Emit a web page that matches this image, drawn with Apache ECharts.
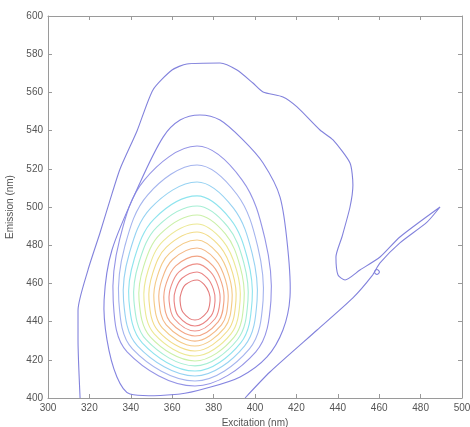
<!DOCTYPE html>
<html><head><meta charset="utf-8">
<script src="https://cdn.jsdelivr.net/npm/echarts@6/dist/echarts.min.js"></script>
<style>html,body{margin:0;padding:0;background:#fff}#c{width:470px;height:427px}</style>
</head><body><div id="c"></div>
<script>
// Axis ranges (nm)
const exRange = [300, 500];
const emRange = [400, 600];
const tickStep = 20;

// Contour lines: [excitation nm, emission nm], innermost (highest level) first
const c01 = [[372,461.8],[375.5,459.4],[377.7,455.3],[378.3,451],[376.8,444.9],[371,440.8],[365.2,444.9],[363.8,451],[364.4,455.3],[366.5,459.4]];
const c02 = [[372,466.0],[377.0,462.7],[379.9,457.0],[380.7,451],[378.8,443.0],[371,437.7],[362.9,443.0],[360.9,451],[361.7,457.0],[364.7,462.7]];
const c03 = [[372,470.2],[378.5,466.0],[382.1,458.7],[383.1,451],[380.7,441.5],[371,435.1],[361.0,441.5],[358.5,451],[359.5,458.7],[363.3,466.0]];
const c04 = [[372,474.3],[379.7,469.2],[383.9,460.3],[385.0,451],[382.2,439.9],[371,432.5],[359.0,439.9],[356.0,451],[357.2,460.3],[361.7,469.2]];
const c05 = [[372,478.5],[380.9,472.5],[385.7,462.0],[387.0,451],[383.8,438.3],[371,429.8],[357.1,438.3],[353.6,451],[355.0,462.0],[360.2,472.5]];
const c06 = [[372,482.7],[382.1,475.7],[387.5,463.7],[388.9,451],[385.3,436.7],[371,427.2],[355.2,436.7],[351.2,451],[352.8,463.7],[358.7,475.7]];
const c07 = [[372,486.9],[383.3,479.0],[389.2,465.4],[390.8,451],[386.8,435.2],[371,424.6],[353.2,435.2],[348.8,451],[350.6,465.4],[357.2,479.0]];
const c08 = [[372,491.1],[384.5,482.3],[391.1,467.0],[392.8,451],[388.4,433.6],[371,422.0],[351.3,433.6],[346.4,451],[348.4,467.0],[355.7,482.3]];
const c09 = [[372,495.8],[385.7,485.9],[392.8,468.9],[394.7,451],[390.0,432.0],[371,419.4],[349.4,432.0],[344.0,451],[346.2,468.9],[354.3,485.9]];
const c10 = [[372,500.5],[386.9,489.6],[394.6,470.8],[396.6,451],[391.5,430.5],[371,416.8],[347.4,430.5],[341.5,451],[343.9,470.8],[352.7,489.6]];
const c11 = [[372,505.8],[388.1,493.7],[396.4,472.9],[398.6,451],[393.1,428.9],[371,414.1],[345.5,428.9],[339.1,451],[341.7,472.9],[351.2,493.7]];
const c12 = [[372,513.1],[389.6,499.4],[398.6,475.8],[401.0,451],[395.0,427.3],[371,411.5],[343.2,427.3],[336.5,451],[339.3,475.8],[349.6,499.4]];
const c13 = [[372,522.0],[391.4,506.4],[401.3,479.4],[403.9,451],[397.3,425.7],[371,408.9],[340.8,425.7],[334.2,451],[337.1,479.4],[348.2,506.4]];
const c14 = [[372,531.9],[393.8,514.1],[404.8,483.4],[407.7,451],[400.4,424.2],[371,406.3],[338.2,424.2],[331.5,451],[334.7,483.4],[346.5,514.1]];
const c15 = [[373.4,548.2],[383.1,545.5],[394.2,535.1],[403.9,523.0],[412.1,505.2],[415.9,477.5],[416.9,452.9],[413.5,435.6],[405.8,421.5],[392.8,411.0],[376.8,405.2],[363.8,402.1],[339.6,402.1],[333.3,411.0],[328.5,430.4],[327.1,451.3],[330.9,477.5],[344.4,512.6],[355.6,536.6],[363.8,545.5]];
// Outermost (open) contour, incl. Rayleigh-scatter sliver
const cOuter = [[315.5,400],[314.5,430.4],[314.5,446],[319.3,467],[325.1,486.4],[330.0,503.7],[334.8,519.9],[343.0,539.8],[350.7,561.3],[359.9,571.7],[367.1,574.9],[383.1,575.4],[391.3,571.7],[399.0,564.9],[403.9,560.2],[413.5,557.6],[420.3,552.4],[431.4,540.3],[437.7,535.1],[445.9,523.0],[447.3,511.5],[445.9,500.0],[442.0,484.3],[439.1,473.8],[440.1,464.4],[443.5,461.8],[450.7,467.0],[460.4,473.8],[470.0,484.3],[489.4,500.0],[483.1,492.1],[470.0,481.2],[460.4,470.7],[456.5,463.9],[447.3,452.4],[430.0,435.6],[407.2,413.6],[395.2,400]];
const cSpeck = [[458.9,467.3],[460.1,466.0],[458.9,464.7],[457.7,466.0]];

const closed = [c01,c02,c03,c04,c05,c06,c07,c08,c09,c10,c11,c12,c13,c14,c15,cSpeck];
const closedColors = ['#e47a7a','#ea8484','#ee9088','#f2a484','#f4b886','#f4ca86','#f2dc88','#ece894','#caf0a8','#a6eed4','#8ee4ee','#96d2f2','#a4b4ee','#9494e6','#8484e0','#8282dc'];
const outerColor = '#8282dc';

const font = 'Liberation Sans, Arial, sans-serif';
const axisCol = '#9a9a9a';
const labelCol = '#555';

const series = [{
  type: 'custom', silent: true, animation: false, clip: true,
  encode: { x: 0, y: 1 },
  data: closed.map((c, i) => [c[0][0], c[0][1], i]),
  renderItem: function (params, api) {
    const i = params.dataIndex;
    const pts = closed[i].map(p => api.coord(p));
    return { type: 'polygon', silent: true,
      shape: { points: pts, smooth: i === 14 ? 0.3 : 0.36 },
      style: { fill: null, stroke: closedColors[i], lineWidth: 1.1 } };
  }
}, {
  type: 'line', data: cOuter, showSymbol: false, smooth: 0.22,
  lineStyle: { color: outerColor, width: 1.1 }, silent: true, animation: false
}];

function mkAxis(range, pos, show, name, gap) {
  return {
    type: 'value', min: range[0], max: range[1], interval: tickStep, position: pos,
    axisLine: { show: true, onZero: false, lineStyle: { color: axisCol, width: 1 } },
    axisTick: { show: true, inside: true, length: 4, lineStyle: { color: axisCol } },
    axisLabel: { show: show, color: labelCol, fontSize: 10, fontFamily: font, margin: 5 },
    splitLine: { show: false },
    name: show ? name : '', nameLocation: 'middle', nameGap: gap,
    nameTextStyle: { color: labelCol, fontSize: 10, fontFamily: font }
  };
}

const chart = echarts.init(document.getElementById('c'), null, { renderer: 'canvas' });
chart.setOption({
  animation: false,
  backgroundColor: '#fff',
  grid: { left: 48, right: 8, top: 16, bottom: 29, containLabel: false, outerBoundsMode: 'none' },
  xAxis: [mkAxis(exRange, 'bottom', true, 'Excitation (nm)', 19), mkAxis(exRange, 'top', false, '', 0)],
  yAxis: [mkAxis(emRange, 'left', true, 'Emission (nm)', 33), mkAxis(emRange, 'right', false, '', 0)],
  series: series
});
</script>
</body></html>
